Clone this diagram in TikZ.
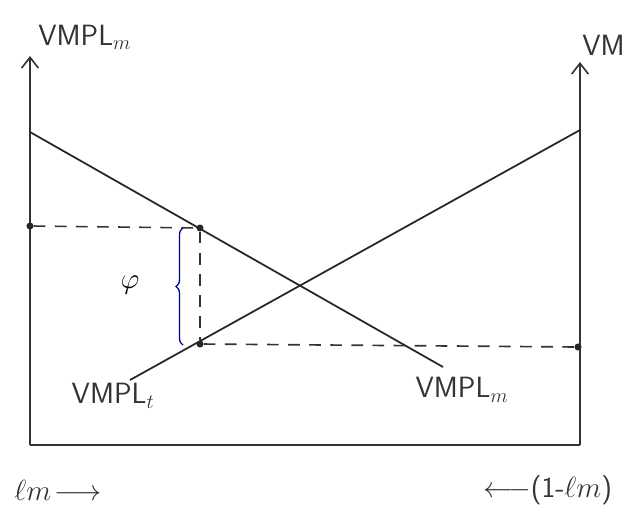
\documentclass[tikz,border=0pt]{standalone}
\usepackage{amsmath}
\usepackage{tikz}
\usetikzlibrary{arrows.meta,positioning,calc,decorations.pathreplacing}
\begin{document}
\begin{tikzpicture}[
    x=0.03cm, y=-0.03cm,
    axis/.style={line width=1.8pt, draw=black!80},
    curve/.style={line width=1.5pt, draw=black!85},
    guide/.style={line width=1.4pt, draw=black!80, dash pattern=on 10pt off 8pt},
    pt/.style={circle, fill=black!85, inner sep=0pt, minimum size=6pt},
    lbl/.style={font=\sffamily\fontsize{25}{28}\selectfont, text=black!80, inner sep=1pt},
    >={Straight Barb[length=3.2mm, width=5mm, line width=1.4pt]}
]
\useasboundingbox (0,0) rectangle (628,519);
% axes
\coordinate (O) at (30,445);
\coordinate (R) at (580,445);
\coordinate (ltop) at (30,56);
\coordinate (rtop) at (580,62);
\draw[axis,->] (O) -- (ltop);
\draw[axis,->] (R) -- (rtop);
\draw[axis] (O) -- (R);
% marginal value product lines
\coordinate (m1) at (30,132);
\coordinate (m2) at (443,367);
\coordinate (t1) at (130,380);
\coordinate (t2) at (580,130);
\draw[curve] (m1) -- (m2);
\draw[curve] (t1) -- (t2);
% points and guides
\node[pt] (la) at (30,226) {};
\node[pt] (ua) at (200,228) {};
\node[pt] (lb) at (200,344) {};
\node[pt] (rb) at (578,347) {};
\draw[guide] (la) -- (ua);
\draw[guide] (ua) -- (lb);
\draw[guide] (lb) -- (rb);
% brace
\draw[blue!60!black, line width=1.1pt, decorate, decoration={brace, amplitude=6pt}]
    (183,345) -- (183,228);
\node (phi) at (130,285) {\fontsize{34}{36}\selectfont$\varphi$};
% labels
\node[lbl, anchor=base west] (ym) at (37,45) {VMPL$_m$};
\node[lbl, anchor=base east] (yt) at (626,55) {VM};
\node[lbl] (vt) at (113,396) {VMPL$_t$};
\node[lbl] (vm) at (462,390) {VMPL$_m$};
\node[lbl] (xl) at (58,490) {$\ell m\!\longrightarrow$};
\node[lbl] (xr) at (548,490) {$\longleftarrow$(1-$\ell m$)};
\end{tikzpicture}
\end{document}
